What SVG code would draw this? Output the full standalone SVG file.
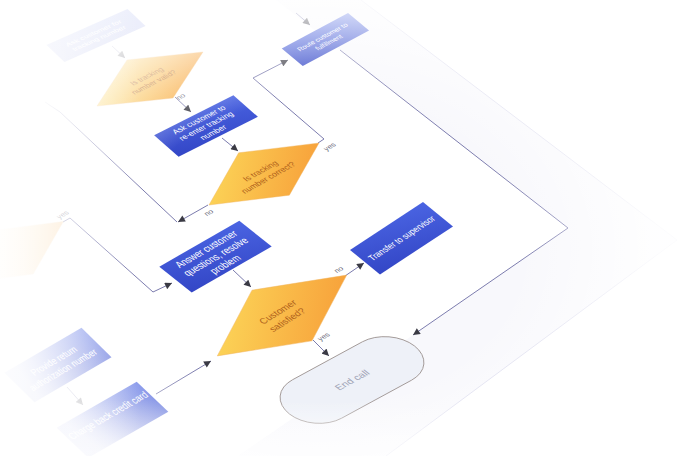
<svg xmlns="http://www.w3.org/2000/svg" width="680" height="456" viewBox="0 0 680 456">
<defs>
<style>
.box{fill:url(#blue)}
.dia{fill:url(#orange);stroke:#f1b562;stroke-width:0.4}
.bt{font-family:"Liberation Sans",Arial,sans-serif;font-size:9px;fill:#ffffff;text-anchor:middle}
.dt{font-family:"Liberation Sans",Arial,sans-serif;font-size:9px;fill:#b0621c;text-anchor:middle}
.lbl{font-family:"Liberation Sans",Arial,sans-serif;font-size:7.5px;fill:#6a6a7a;text-anchor:middle}
.con{fill:none;stroke:#7c7cae;stroke-width:1}
.arr{marker-end:url(#ah)}
</style>
<linearGradient id="blue" x1="0" y1="1" x2="1" y2="0">
<stop offset="0" stop-color="#3346c6"/>
<stop offset="1" stop-color="#4a64e2"/>
</linearGradient>
<linearGradient id="orange" x1="0" y1="0" x2="1" y2="0.6">
<stop offset="0" stop-color="#fde05e"/>
<stop offset="1" stop-color="#f7a03a"/>
</linearGradient>
<radialGradient id="fade" gradientUnits="userSpaceOnUse" cx="0" cy="0" r="1" gradientTransform="translate(320,250) scale(340,260)">
<stop offset="0" stop-color="#ffffff" stop-opacity="0"/>
<stop offset="0.58" stop-color="#ffffff" stop-opacity="0"/>
<stop offset="0.8" stop-color="#ffffff" stop-opacity="0.5"/>
<stop offset="0.95" stop-color="#ffffff" stop-opacity="0.82"/>
<stop offset="1" stop-color="#ffffff" stop-opacity="0.9"/>
</radialGradient>
<linearGradient id="leftfade" gradientUnits="userSpaceOnUse" x1="0" y1="0" x2="140" y2="0">
<stop offset="0" stop-color="#ffffff" stop-opacity="0.85"/>
<stop offset="0.5" stop-color="#ffffff" stop-opacity="0.45"/>
<stop offset="1" stop-color="#ffffff" stop-opacity="0"/>
</linearGradient>
<linearGradient id="bottomfade" gradientUnits="userSpaceOnUse" x1="0" y1="456" x2="0" y2="400">
<stop offset="0" stop-color="#ffffff" stop-opacity="0.6"/>
<stop offset="1" stop-color="#ffffff" stop-opacity="0"/>
</linearGradient>
<marker id="ah" viewBox="0 0 10 10" refX="10" refY="5" markerWidth="8" markerHeight="7" markerUnits="userSpaceOnUse" orient="auto">
<path d="M0,0 L10,5 L0,10 Z" fill="#3a3a44"/>
</marker>
</defs>
<rect width="680" height="456" fill="#ffffff"/>
<g id="page">
<polygon points="361,0 677,240 386,456 238,456 413,335 568,228 276,0" fill="#f8f8fc"/>
<polyline points="361,0 677,240 386,456" fill="none" stroke="#dcdcee" stroke-width="1"/>
</g>
<g id="connectors">
<path class="con arr" d="M112,46 L125,58"/>
<path class="con arr" d="M175,97 L191,112"/>
<path class="con arr" d="M222,138 L238,151"/>
<path class="con arr" d="M208,205 L178,222"/>
<path class="con" d="M177,222 L60,112 L45,102"/>
<path class="con arr" d="M63,222 L70,218 L153,292 L172,283"/>
<path class="con arr" d="M233,270 L251,287"/>
<path class="con arr" d="M345,276 L364,263"/>
<path class="con arr" d="M313,340 L329,356"/>
<path class="con arr" d="M318,143 L324,139 L253,78 L288,60"/>
<path class="con arr" d="M340,50 L568,228 L413,335"/>
<path class="con arr" d="M296,13 L310,25"/>
<path class="con arr" d="M67,387 L83,405"/>
<path class="con arr" d="M156,394 L211,361"/>
<g transform="matrix(0.85 -0.5 0.75 0.62 181 97)"><text class="lbl" x="0" y="2">no</text></g>
<g transform="matrix(0.85 -0.5 0.75 0.62 330 147)"><text class="lbl" x="0" y="2">yes</text></g>
<g transform="matrix(0.85 -0.5 0.75 0.62 209 213)"><text class="lbl" x="0" y="2">no</text></g>
<g transform="matrix(0.85 -0.5 0.75 0.62 339 270)"><text class="lbl" x="0" y="2">no</text></g>
<g transform="matrix(0.85 -0.5 0.75 0.62 324 337)"><text class="lbl" x="0" y="2">yes</text></g>
<g transform="matrix(0.85 -0.5 0.75 0.62 63 215)"><text class="lbl" x="0" y="2">yes</text></g>
</g>
<g id="n-ask-tracking" transform="matrix(0.81 -0.36 0.5 0.47 96 35.5)">
<rect class="box" x="-50" y="-18" width="100" height="36"/>
<text class="bt" x="0" y="-2">Ask customer for</text>
<text class="bt" x="0" y="9">tracking number</text>
</g>
<g id="n-valid" transform="matrix(0.757 -0.386 0.657 0.543 150 79)">
<polygon class="dia" points="0,-35 70,0 0,35 -70,0"/>
<text class="dt" x="0" y="-2">Is tracking</text>
<text class="dt" x="0" y="9">number valid?</text>
</g>
<g id="n-reenter" transform="matrix(0.793 -0.40 0.68 0.60 206 126)">
<rect class="box" x="-50" y="-18" width="100" height="36"/>
<text class="bt" x="0" y="-7.3">Ask customer to</text>
<text class="bt" x="0" y="3.2">re-enter tracking</text>
<text class="bt" x="0" y="13.7">number</text>
</g>
<g id="n-correct" transform="matrix(0.786 -0.443 0.724 0.605 264 174)">
<polygon class="dia" points="0,-35 70,0 0,35 -70,0"/>
<text class="dt" x="0" y="-2">Is tracking</text>
<text class="dt" x="0" y="9">number correct?</text>
</g>
<g id="n-route" transform="matrix(0.663 -0.353 0.583 0.486 325.4 39.5)">
<rect class="box" x="-50" y="-18" width="100" height="36"/>
<text class="bt" x="0" y="-2">Route customer to</text>
<text class="bt" x="0" y="9">fulfillment</text>
</g>
<g id="n-left-decision" transform="matrix(0.79 -0.45 0.72 0.6 8 253)" opacity="0.45">
<polygon class="dia" points="0,-35 70,0 0,35 -70,0"/>
</g>
<g id="n-answer" transform="matrix(0.80 -0.46 0.90 0.717 215.5 256.6)">
<rect class="box" x="-50" y="-18" width="100" height="36"/>
<text class="bt" x="0" y="-7.3" style="font-size:9.5px">Answer customer</text>
<text class="bt" x="0" y="3.4" style="font-size:9.5px">questions, resolve</text>
<text class="bt" x="0" y="14.1" style="font-size:9.5px">problem</text>
</g>
<g id="n-satisfied" transform="matrix(0.924 -0.577 0.857 0.724 282 315.5)">
<polygon class="dia" points="0,-35 70,0 0,35 -70,0"/>
<text class="dt" x="0" y="-2" style="font-size:8.5px">Customer</text>
<text class="dt" x="0" y="9" style="font-size:8.5px">satisfied?</text>
</g>
<g id="n-transfer" transform="matrix(0.73 -0.48 0.833 0.68 401.5 238.2)">
<rect class="box" x="-50" y="-18" width="100" height="36"/>
<text class="bt" x="0" y="3.2">Transfer to supervisor</text>
</g>
<g id="n-end" transform="matrix(0.92 -0.5 0.82 0.64 352 380)">
<rect x="-68" y="-30" width="136" height="60" rx="30" ry="30" fill="#eef1f8" stroke="#9c9290" stroke-width="0.8"/>
<text x="0" y="3.4" style="font-family:'Liberation Sans',Arial,sans-serif;font-size:9.5px;fill:#9ea3b5;text-anchor:middle">End call</text>
</g>
<g id="n-provide" transform="matrix(0.77 -0.45 0.833 0.82 58 365)">
<rect class="box" x="-50" y="-18" width="100" height="36"/>
<text class="bt" x="0" y="-2">Provide return</text>
<text class="bt" x="0" y="9">authorization number</text>
</g>
<g id="n-charge" transform="matrix(0.8 -0.46 0.878 0.833 112.5 419.7)">
<rect class="box" x="-50" y="-18" width="100" height="36"/>
<text class="bt" x="0" y="-2">Charge back credit card</text>
</g>
<rect id="fade-overlay" width="680" height="456" fill="url(#fade)"/>
<rect id="left-fade" width="140" height="456" fill="url(#leftfade)"/>
<rect id="bottom-fade" y="400" width="680" height="56" fill="url(#bottomfade)"/>
</svg>
